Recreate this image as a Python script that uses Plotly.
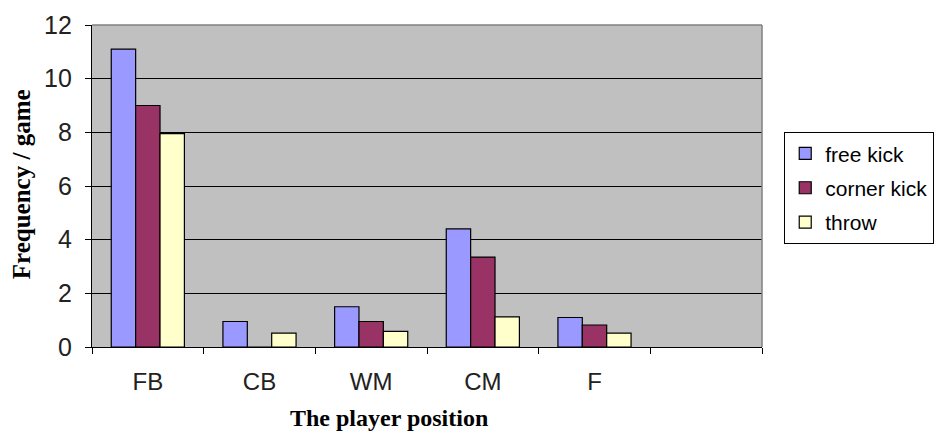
import plotly.graph_objects as go

categories = ["FB", "CB", "WM", "CM", "F", " "]
free_kick = [11.1, 0.95, 1.5, 4.4, 1.1, None]
corner_kick = [9.0, 0, 0.95, 3.35, 0.82, None]
throw = [7.95, 0.52, 0.58, 1.12, 0.52, None]
series_names = ["free kick", "corner kick", "throw"]
series_colors = ["#9999FF", "#993366", "#FFFFCC"]
y_ticks = [0, 2, 4, 6, 8, 10, 12]

W, H = 946, 431
L, R, T, B = 92, 182, 25, 84
plot_w = W - L - R
plot_h = H - T - B

fig = go.Figure()
for name, vals, col in zip(series_names, [free_kick, corner_kick, throw], series_colors):
    fig.add_trace(go.Bar(
        x=categories, y=vals, name=name, legendgroup=name,
        marker=dict(color=col, line=dict(color="black", width=1.2)),
    ))

fig.update_layout(
    width=W, height=H,
    margin=dict(l=L, r=R, t=T, b=B),
    paper_bgcolor="white",
    plot_bgcolor="#C0C0C0",
    barmode="group",
    bargap=0.345,
    bargroupgap=0,
    showlegend=True,
    legend=dict(
        x=(786 - L) / plot_w, xanchor="left",
        y=(H - B - 132) / plot_h, yanchor="top",
        font=dict(family="Liberation Sans, Arial", size=21, color="black"),
        bordercolor="black", borderwidth=1.3, bgcolor="white",
        tracegroupgap=4, itemwidth=30,
    ),
    font=dict(family="Liberation Sans, Arial", color="black"),
)

fig.update_xaxes(
    type="category", categoryorder="array", categoryarray=categories,
    showline=True, linecolor="black", linewidth=1.3,
    ticks="outside", ticklen=6, tickcolor="black", tickwidth=1.3,
    tickson="boundaries", showgrid=False,
    tickfont=dict(family="Liberation Sans, Arial", size=24, color="#222222"),
    ticklabelstandoff=13,
)
fig.update_yaxes(
    range=[0, 12], tickvals=y_ticks,
    showline=True, linecolor="black", linewidth=1.3,
    ticks="outside", ticklen=6, tickcolor="black", tickwidth=1.3,
    showgrid=True, gridcolor="black", gridwidth=1.3, zeroline=False,
    tickfont=dict(family="Liberation Sans, Arial", size=25, color="#222222"),
    ticklabelstandoff=8,
)

# gray top/right border of the plot area
fig.add_shape(type="line", xref="x domain", yref="y domain", x0=0, x1=1, y0=1, y1=1,
              line=dict(color="#808080", width=1.5), layer="above")
fig.add_shape(type="line", xref="x domain", yref="y domain", x0=1, x1=1, y0=0, y1=1,
              line=dict(color="#808080", width=1.5), layer="above")

fig.add_annotation(text="<b>The player position</b>", xref="paper", yref="paper",
                   x=(390 - L) / plot_w, y=-(418 - (H - B)) / plot_h, xanchor="center", yanchor="middle",
                   showarrow=False, font=dict(family="Liberation Serif, Times New Roman", size=24, color="black"))
fig.add_annotation(text="<b>Frequency / game</b>", xref="paper", yref="paper",
                   x=-(L - 21) / plot_w, y=((H - B) - 184) / plot_h, xanchor="center", yanchor="middle",
                   textangle=-90, showarrow=False,
                   font=dict(family="Liberation Serif, Times New Roman", size=25, color="black"))

fig.write_html("out.html", config={"displayModeBar": False},
               post_script="document.body.style.margin='0';document.body.style.overflow='hidden';")
